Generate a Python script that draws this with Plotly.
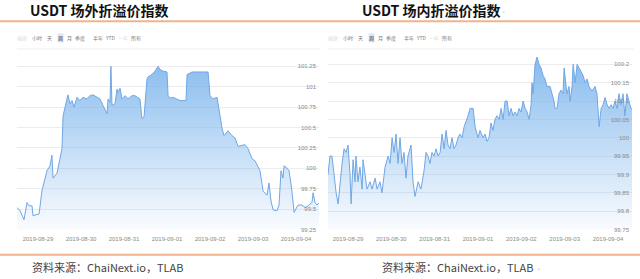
import pandas as pd
import plotly.graph_objects as go

# ---------------- data ----------------
BASE = pd.Timestamp("2019-08-29 00:00")

# 场外 (OTC) index: hours offset from 2019-08-29 00:00, value
otc_hours = [-11.7, -10.0, -7.8, -6.1, -5.0, -3.3, -2.8, 0.6, 2.2, 3.9, 5.0, 6.7, 7.8, 8.4, 10.6, 11.2,
             13.4, 14.0, 16.2, 16.7, 17.9, 19.0, 20.1, 21.8, 23.4, 25.1, 27.3, 29.0, 30.7, 32.9, 34.6,
             36.3, 38.5, 39.1, 40.2, 40.7, 41.3, 43.0, 44.1, 44.7, 45.8, 46.9, 48.6, 50.2, 52.5, 54.1,
             55.8, 56.9, 58.0, 59.2, 60.8, 61.4, 63.6, 65.3, 67.0, 68.1, 69.8, 72.0, 72.6, 73.7, 75.3,
             77.6, 79.3, 82.0, 82.6, 83.2, 86.0, 88.7, 92.1, 94.9, 96.0, 97.7, 99.9, 100.5, 102.7, 103.8,
             106.0, 108.3, 110.0, 111.6, 113.9, 115.5, 117.2, 119.4, 121.1, 123.9, 125.6, 127.8, 128.9,
             130.0, 131.2, 133.4, 134.5, 135.6, 136.7, 137.3, 139.0, 140.1, 141.7, 142.9, 145.1, 147.3,
             149.0, 150.7, 152.9, 153.5, 154.6, 155.7, 156.8]
otc_values = [99.52, 99.48, 99.37, 99.58, 99.54, 99.54, 99.42, 99.44, 99.72, 99.86, 99.97, 100.03, 100.16,
              99.88, 99.94, 100.0, 100.24, 100.64, 100.87, 100.9, 100.79, 100.83, 100.75, 100.87, 100.83,
              100.87, 100.85, 100.89, 100.9, 100.87, 100.85, 100.77, 100.67, 100.85, 100.81, 101.25,
              100.77, 100.79, 100.97, 100.93, 100.98, 100.85, 100.89, 100.85, 100.89, 100.89, 100.87,
              100.85, 100.61, 100.63, 101.09, 101.12, 101.15, 101.19, 101.25, 101.21, 101.19, 101.18,
              100.89, 100.86, 100.87, 100.85, 100.83, 100.83, 100.83, 101.15, 101.18, 101.18, 101.18,
              101.18, 100.89, 100.85, 100.87, 100.79, 100.49, 100.40, 100.46, 100.40, 100.37, 100.27,
              100.28, 100.29, 100.24, 100.12, 100.09, 99.97, 99.72, 99.67, 99.82, 99.60, 99.49, 99.48,
              99.55, 99.97, 99.88, 100.03, 100.0, 99.97, 99.72, 99.46, 99.55, 99.55, 99.52, 99.54, 99.58,
              99.70, 99.58, 99.55, 99.58]

# 场内 (exchange) index
ex_hours = [-11.1, -10.0, -8.9, -7.8, -6.6, -5.5, -4.4, -3.3, -2.2, -1.1, 0.0, 1.1, 1.7, 2.8, 3.9, 4.4,
            5.5, 6.6, 7.8, 8.3, 9.4, 10.5, 12.2, 13.3, 15.0, 16.1, 17.7, 18.8, 20.5, 22.2, 23.3, 24.4,
            25.5, 26.6, 27.7, 28.8, 29.9, 31.0, 32.1, 33.2, 34.9, 36.0, 37.1, 38.8, 40.4, 42.1, 43.2,
            44.3, 45.4, 46.5, 47.6, 48.8, 49.9, 51.0, 52.1, 53.2, 54.3, 55.4, 56.5, 57.6, 58.7, 59.8,
            60.9, 62.0, 63.2, 64.3, 66.5, 67.6, 69.3, 70.4, 72.0, 73.1, 74.8, 75.9, 77.0, 78.1, 79.2,
            80.3, 81.4, 82.5, 83.7, 84.8, 85.9, 87.0, 88.1, 89.2, 90.3, 91.4, 92.5, 93.6, 94.7, 95.8,
            97.0, 98.1, 99.2, 100.3, 101.4, 101.9, 102.5, 103.6, 104.7, 105.8, 106.9, 108.0, 109.1,
            110.2, 111.9, 113.0, 114.1, 114.7, 115.8, 116.9, 118.0, 119.1, 119.7, 120.8, 121.3, 122.4,
            123.0, 124.1, 124.7, 125.8, 126.9, 128.0, 129.1, 130.2, 131.3, 132.4, 133.5, 134.6, 135.7,
            136.8, 137.9, 139.1, 140.2, 141.3, 142.4, 143.5, 144.6, 145.7, 146.8, 147.9, 149.0, 150.1,
            151.2, 152.3, 153.4, 154.5, 155.6, 156.7, 157.3]
ex_values = [99.90, 99.95, 99.95, 99.90, 99.85, 99.82, 99.88, 99.93, 99.97, 99.96, 99.98, 99.90, 99.82,
             99.94, 99.88, 99.95, 99.88, 99.92, 99.86, 99.94, 99.90, 99.86, 99.88, 99.86, 99.89, 99.86,
             99.88, 99.85, 99.92, 99.95, 99.93, 100.00, 99.96, 100.01, 99.93, 100.00, 99.93, 99.96,
             99.89, 99.95, 99.98, 99.88, 99.84, 99.88, 99.86, 99.91, 99.96, 99.95, 99.93, 99.96, 99.95,
             99.97, 99.95, 99.96, 100.01, 99.97, 100.02, 99.98, 99.97, 100.00, 99.97, 99.98, 100.00,
             100.01, 100.00, 100.03, 100.06, 100.08, 100.08, 100.03, 100.00, 100.02, 100.00, 100.01,
             99.99, 100.00, 100.04, 100.02, 100.05, 100.06, 100.05, 100.08, 100.05, 100.10, 100.10,
             100.06, 100.08, 100.06, 100.07, 100.06, 100.08, 100.07, 100.10, 100.08, 100.07, 100.05,
             100.09, 100.15, 100.12, 100.20, 100.22, 100.20, 100.19, 100.17, 100.16, 100.14, 100.14,
             100.12, 100.10, 100.08, 100.08, 100.12, 100.13, 100.12, 100.19, 100.14, 100.12, 100.14,
             100.10, 100.14, 100.20, 100.15, 100.20, 100.19, 100.18, 100.17, 100.15, 100.16, 100.14,
             100.13, 100.13, 100.14, 100.12, 100.03, 100.08, 100.09, 100.11, 100.09, 100.08, 100.09,
             100.08, 100.10, 100.08, 100.12, 100.09, 100.12, 100.06, 100.12, 100.10, 100.08, 100.08]

date_ticks = ["2019-08-29", "2019-08-30", "2019-08-31", "2019-09-01", "2019-09-02", "2019-09-03", "2019-09-04"]

otc_yticks = [99.25, 99.5, 99.75, 100, 100.25, 100.5, 100.75, 101, 101.25]
otc_ylabels = ["99.25", "99.5", "99.75", "100", "100.25", "100.5", "100.75", "101", "101.25"]
ex_yticks = [99.75, 99.8, 99.85, 99.9, 99.95, 100, 100.05, 100.1, 100.15, 100.2]
ex_ylabels = ["99.75", "99.8", "99.85", "99.9", "99.95", "100", "100.05", "100.1", "100.15", "100.2"]

titles = ["USDT 场外折溢价指数", "USDT 场内折溢价指数"]
source_text = "资料来源：ChaiNext.io，TLAB"
range_words = ["缩放", "小时", "天", "周", "月", "季度", "半年", "YTD", "一年", "所有"]

# ---------------- figure ----------------
W, H = 640, 279
def px(x):
    return x / W
def py(y):
    return 1 - y / H

otc_t = [BASE + pd.Timedelta(hours=h) for h in otc_hours]
ex_t = [BASE + pd.Timedelta(hours=h) for h in ex_hours]

LINE = "rgb(112,166,228)"
def grad(lo, hi):
    return dict(type="vertical", start=lo, stop=hi,
                colorscale=[[0, "rgba(124,181,236,0.03)"], [1, "rgba(124,181,236,0.95)"]])

otc_range = [99.25, 99.25 + 180 / 82.5]
ex_range = [99.75, 99.75 + 180 / 371]

fig = go.Figure()
fig.add_trace(go.Scatter(x=otc_t, y=otc_values, mode="lines", line=dict(color=LINE, width=1),
                         fill="tozeroy", fillgradient=grad(*otc_range), xaxis="x", yaxis="y",
                         hoverinfo="skip", showlegend=False))
fig.add_trace(go.Scatter(x=ex_t, y=ex_values, mode="lines", line=dict(color=LINE, width=1),
                         fill="tozeroy", fillgradient=grad(*ex_range), xaxis="x2", yaxis="y2",
                         hoverinfo="skip", showlegend=False))

xcommon = dict(type="date", tickvals=date_ticks, tickformat="%Y-%m-%d", showgrid=False,
               tickfont=dict(size=6, color="#8a8a8a", family="Liberation Sans"),
               ticks="outside", ticklen=3, tickcolor="rgba(0,0,0,0)", showline=False, zeroline=False)
ycommon = dict(side="right", ticklabelposition="inside", ticklabeloverflow="allow",
               showgrid=True, gridcolor="#ececec",
               gridwidth=1, zeroline=False, showline=False,
               tickfont=dict(size=6, color="#8a8a8a", family="Liberation Sans"))

fig.update_layout(
    width=W, height=H, margin=dict(l=0, r=0, t=0, b=0),
    paper_bgcolor="white", plot_bgcolor="white",
    xaxis=dict(domain=[px(17), px(319)], range=[otc_t[0], otc_t[-1]], anchor="y", **xcommon),
    yaxis=dict(domain=[py(232), py(52)], range=otc_range, tickvals=otc_yticks, ticktext=otc_ylabels,
               anchor="x", **ycommon),
    xaxis2=dict(domain=[px(328), px(632)], range=[ex_t[0], ex_t[-1]], anchor="y2", **xcommon),
    yaxis2=dict(domain=[py(232), py(52)], range=ex_range, tickvals=ex_yticks, ticktext=ex_ylabels,
                anchor="x2", **ycommon),
)

# orange separator lines and faint frame lines
shapes = []
for y in (21.5, 257.5):
    shapes.append(dict(type="line", xref="paper", yref="paper", x0=0, x1=1, y0=py(y), y1=py(y),
                       line=dict(color="rgb(240,180,140)", width=2)))
for x0, x1 in ((17, 320), (328, 634)):
    shapes.append(dict(type="line", xref="paper", yref="paper", x0=px(x0), x1=px(x1), y0=py(49.5), y1=py(49.5),
                       line=dict(color="#f0f0f0", width=1)))
fig.update_layout(shapes=shapes)

ann = []
CJK = "Noto Sans CJK SC"
for tx, title in zip((99, 431), titles):
    ann.append(dict(text="<b>%s</b>" % title, x=px(tx), y=py(10.5), xref="paper", yref="paper",
                    showarrow=False, font=dict(size=14, color="#111", family=CJK), xanchor="center", yanchor="middle"))
ann.append(dict(text="⌄", x=px(503), y=py(11), xref="paper", yref="paper", showarrow=False,
                font=dict(size=6, color="#bbb", family="DejaVu Sans"), xanchor="center", yanchor="middle"))

left_centers = [22, 37, 49, 60, 69, 80, 98, 110, 123, 136]
for off in (0, 311):
    for i, (w, cx) in enumerate(zip(range_words, left_centers)):
        col = "#777"
        bg = None
        if i in (0, 8):
            col = "#d8d8d8"
        if w == "周":
            col = "#223"
            bg = "#dde6f2"
        a = dict(text=w, x=px(cx + off), y=py(38), xref="paper", yref="paper", showarrow=False,
                 font=dict(size=5, color=col, family=CJK), xanchor="center", yanchor="middle")
        if bg:
            a["bgcolor"] = bg
            a["borderpad"] = 0
        ann.append(a)

for sx in (30, 380):
    ann.append(dict(text=source_text, x=px(sx), y=py(270), xref="paper", yref="paper", showarrow=False,
                    font=dict(size=11, color="#444", family=CJK), xanchor="left", yanchor="middle"))
ann.append(dict(text="⌄", x=px(538), y=py(270), xref="paper", yref="paper", showarrow=False,
                font=dict(size=6, color="#bbb", family="DejaVu Sans"), xanchor="center", yanchor="middle"))
fig.update_layout(annotations=ann)

fig.write_html("out.html", config={"displayModeBar": False, "staticPlot": True})
